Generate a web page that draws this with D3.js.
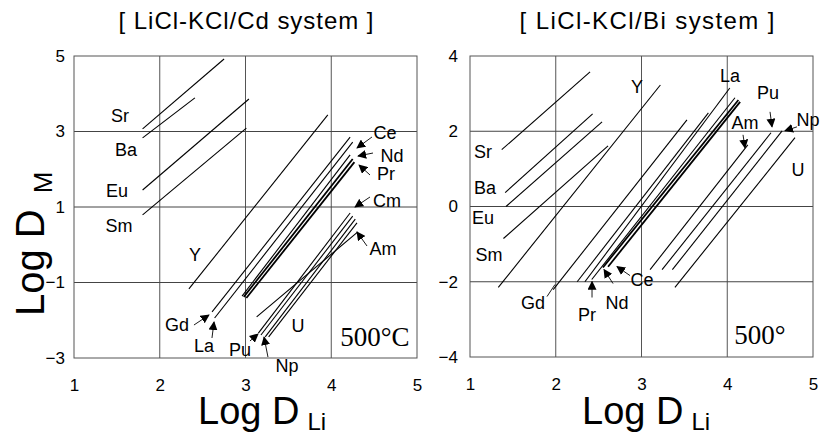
<!DOCTYPE html>
<html>
<head>
<meta charset="utf-8">
<script src="https://cdn.jsdelivr.net/npm/d3@7"></script>
<style>
  body { margin: 0; background: #fff; }
  svg { display: block; }
  text { font-family: "Liberation Sans", Arial, sans-serif; fill: #000; }
</style>
</head>
<body>
<svg id="chart" width="824" height="435"></svg>
<script>
// ---- data: log D(Li) vs log D(M) segments for each element ----
const xTicks = [1, 2, 3, 4, 5];
const cdYTicks = [-3, -1, 1, 3, 5];
const biYTicks = [-4, -2, 0, 2, 4];

// LiCl-KCl / Cd
const cdElements = ["Sr", "Ba", "Eu", "Sm", "Y", "Gd", "La", "Ce", "Nd", "Pr", "Cm", "Pu", "Np", "U", "Am"];
const cdLiFrom = [1.80, 1.80, 1.80, 1.80, 2.34, 2.61, 2.64, 2.96, 2.98, 3.01, 3.15, 3.18, 3.23, 3.27, 3.13];
const cdLiTo   = [2.75, 2.41, 3.04, 3.01, 3.96, 4.22, 4.25, 4.22, 4.25, 4.27, 4.22, 4.25, 4.28, 4.30, 4.31];
const cdMFrom  = [3.07, 2.83, 1.45, 0.79, -1.17, -1.78, -1.94, -1.36, -1.38, -1.41, -2.34, -2.39, -2.44, -2.44, -1.91];
const cdMTo    = [4.92, 3.89, 3.86, 3.09, 3.44, 2.85, 2.72, 2.38, 2.27, 2.19, 0.84, 0.76, 0.68, 0.58, 0.34];

// LiCl-KCl / Bi
const biElements = ["Sr", "Ba", "Eu", "Sm", "Y", "Gd", "", "La", "Pr", "Nd", "Ce", "Am", "Pu", "Np", "U"];
const biLiFrom = [1.37, 1.41, 1.42, 1.39, 1.33, 1.97, 2.25, 2.34, 2.42, 2.55, 2.61, 3.10, 3.24, 3.36, 3.39];
const biLiTo   = [2.40, 2.43, 2.54, 2.61, 3.22, 3.53, 3.78, 4.03, 4.09, 4.13, 4.15, 4.24, 4.51, 4.64, 4.79];
const biMFrom  = [1.51, 0.37, 0.00, -0.85, -2.15, -2.21, -2.00, -2.00, -1.94, -1.62, -1.60, -1.68, -1.68, -1.68, -2.15];
const biMTo    = [3.58, 2.46, 2.25, 1.61, 3.23, 2.30, 2.49, 3.15, 2.89, 2.83, 2.78, 1.64, 1.96, 2.01, 1.83];

// ---- annotation layout (data units) ----
const cdLabels = [
  ["Sr", 1.536, 3.411], ["Ba", 1.606, 2.510], ["Eu", 1.501, 1.424], ["Sm", 1.525, 0.497],
  ["Y", 2.411, -0.272], ["Gd", 2.201, -2.126], ["La", 2.516, -2.682], ["Pu", 2.936, -2.788],
  ["Np", 3.484, -3.212], ["U", 3.612, -2.152], ["Am", 4.603, -0.113], ["Cm", 4.650, 1.159],
  ["Pr", 4.638, 1.890], ["Nd", 4.708, 2.360], ["Ce", 4.627, 2.960]
];
const cdArrows = [
  [4.475, 2.854, 4.300, 2.563], [4.487, 2.430, 4.312, 2.351], [4.452, 1.848, 4.324, 2.113],
  [4.452, 1.265, 4.277, 1.000], [4.417, -0.033, 4.300, 0.338], [2.399, -2.126, 2.574, -1.861],
  [2.609, -2.470, 2.633, -2.046], [3.052, -2.550, 3.146, -2.364], [3.262, -2.974, 3.216, -2.444]
];
const biLabels = [
  ["Sr", 1.152, 1.454], ["Ba", 1.175, 0.499], ["Eu", 1.152, -0.297], ["Sm", 1.222, -1.279],
  ["Gd", 1.735, -2.552], ["Pr", 2.364, -2.870], ["Nd", 2.714, -2.552], ["Ce", 3.006, -1.942],
  ["Y", 2.948, 3.178], ["La", 4.032, 3.469], ["Pu", 4.475, 3.019], ["Am", 4.207, 2.223],
  ["Np", 4.942, 2.302], ["U", 4.825, 0.976]
];
const biArrows = [
  [4.499, 2.515, 4.522, 2.117], [4.184, 1.905, 4.207, 1.560], [4.813, 2.117, 4.673, 2.011],
  [2.423, -2.419, 2.423, -1.995], [2.668, -2.048, 2.563, -1.676], [2.866, -1.836, 2.714, -1.597]
];
const biLeaders = [[1.898, -2.393, 1.991, -2.074]];

const SANS = "'Liberation Sans', Arial, sans-serif";
const SERIF = "'Liberation Serif', 'Times New Roman', serif";

const svg = d3.select("#chart");

// arrowhead marker
svg.append("defs").append("marker")
  .attr("id", "head")
  .attr("viewBox", "0 0 10 10")
  .attr("refX", 9).attr("refY", 5)
  .attr("markerWidth", 9).attr("markerHeight", 9)
  .attr("markerUnits", "userSpaceOnUse")
  .attr("orient", "auto")
  .append("path").attr("d", "M0,0 L10,5 L0,10 Z").attr("fill", "#000");

function drawPanel(p) {
  const x = d3.scaleLinear().domain([1, 5]).range(p.xRange);
  const y = d3.scaleLinear().domain(p.yDomain).range(p.yRange);
  const g = svg.append("g");

  // grid
  const innerX = xTicks.slice(1, -1);
  const innerY = p.yTicks.slice(1, -1);
  g.selectAll(".gx").data(innerX).join("line")
    .attr("x1", d => x(d)).attr("x2", d => x(d))
    .attr("y1", p.yRange[0]).attr("y2", p.yRange[1])
    .attr("stroke", "#555").attr("stroke-width", 1);
  g.selectAll(".gy").data(innerY).join("line")
    .attr("y1", d => y(d)).attr("y2", d => y(d))
    .attr("x1", p.xRange[0]).attr("x2", p.xRange[1])
    .attr("stroke", "#444").attr("stroke-width", 1);
  g.append("rect")
    .attr("x", p.xRange[0]).attr("y", p.yRange[1])
    .attr("width", p.xRange[1] - p.xRange[0]).attr("height", p.yRange[0] - p.yRange[1])
    .attr("fill", "none").attr("stroke", "#555").attr("stroke-width", 1);

  // axes (labels only)
  const ax = g.append("g").attr("transform", `translate(0,${p.yRange[0]})`)
    .call(d3.axisBottom(x).tickValues(xTicks).tickFormat(d3.format("d")).tickSize(0).tickPadding(21));
  const ay = g.append("g").attr("transform", `translate(${p.xRange[0]},0)`)
    .call(d3.axisLeft(y).tickValues(p.yTicks).tickFormat(d3.format("d")).tickSize(0).tickPadding(p.yPad));
  [ax, ay].forEach(a => {
    a.select(".domain").remove();
    a.selectAll("text").attr("font-size", 17).style("font-family", SANS).attr("fill", "#000");
  });

  // element segments
  const segs = p.names.map((n, i) => ({ n, x0: p.liFrom[i], x1: p.liTo[i], y0: p.mFrom[i], y1: p.mTo[i] }));
  g.selectAll(".seg").data(segs).join("line")
    .attr("x1", d => x(d.x0)).attr("y1", d => y(d.y0))
    .attr("x2", d => x(d.x1)).attr("y2", d => y(d.y1))
    .attr("stroke", "#000")
    .attr("stroke-width", d => p.heavy.includes(d.n) ? 1.8 : 1.1);

  // leaders with arrowheads
  g.selectAll(".arr").data(p.arrows).join("line")
    .attr("x1", d => x(d[0])).attr("y1", d => y(d[1]))
    .attr("x2", d => x(d[2])).attr("y2", d => y(d[3]))
    .attr("stroke", "#000").attr("stroke-width", 0.9)
    .attr("marker-end", "url(#head)");
  g.selectAll(".lead").data(p.leaders).join("line")
    .attr("x1", d => x(d[0])).attr("y1", d => y(d[1]))
    .attr("x2", d => x(d[2])).attr("y2", d => y(d[3]))
    .attr("stroke", "#000").attr("stroke-width", 0.9);

  // element labels
  g.selectAll(".lab").data(p.labels).join("text")
    .attr("x", d => x(d[1])).attr("y", d => y(d[2]))
    .attr("dy", "0.36em").attr("text-anchor", "middle")
    .attr("font-size", 18)
    .text(d => d[0]);

  // temperature note
  g.append("text")
    .attr("x", x(p.temp[1])).attr("y", y(p.temp[2]))
    .attr("dy", "0.36em").attr("text-anchor", "middle")
    .style("font-family", SERIF)
    .attr("font-size", 27)
    .text(p.temp[0]);

  // title
  g.append("text")
    .attr("x", p.titleX).attr("y", 29)
    .attr("text-anchor", "middle").attr("font-size", 24)
    .attr("textLength", 255).attr("lengthAdjust", "spacing")
    .text(p.title);

  // x-axis title
  const xt = g.append("text").attr("x", p.xTitleX).attr("y", 424);
  xt.append("tspan").attr("font-size", 38).text("Log D");
  xt.append("tspan").attr("font-size", 24).attr("dx", 8).attr("dy", 6).text("Li");
}

drawPanel({
  xRange: [74, 417], yDomain: [-3, 5], yRange: [358, 56], yTicks: cdYTicks, yPad: 9,
  names: cdElements, liFrom: cdLiFrom, liTo: cdLiTo, mFrom: cdMFrom, mTo: cdMTo,
  heavy: ["Nd", "Pr"], labels: cdLabels, arrows: cdArrows, leaders: [],
  temp: ["500°C", 4.510, -2.417],
  title: "[ LiCl-KCl/Cd system ]", titleX: 246, xTitleX: 198
});
drawPanel({
  xRange: [470, 813], yDomain: [-4, 4], yRange: [357, 56], yTicks: biYTicks, yPad: 12,
  names: biElements, liFrom: biLiFrom, liTo: biLiTo, mFrom: biMFrom, mTo: biMTo,
  heavy: ["Nd", "Ce"], labels: biLabels, arrows: biArrows, leaders: biLeaders,
  temp: ["500°", 4.382, -3.401],
  title: "[ LiCl-KCl/Bi system ]", titleX: 647, xTitleX: 582
});

// shared y-axis title
const yt = svg.append("text").attr("transform", "translate(44,316) rotate(-90)");
yt.append("tspan").attr("font-size", 40).text("Log D");
yt.append("tspan").attr("font-size", 26).attr("dx", 16).attr("dy", 8).text("M");
</script>
</body>
</html>
